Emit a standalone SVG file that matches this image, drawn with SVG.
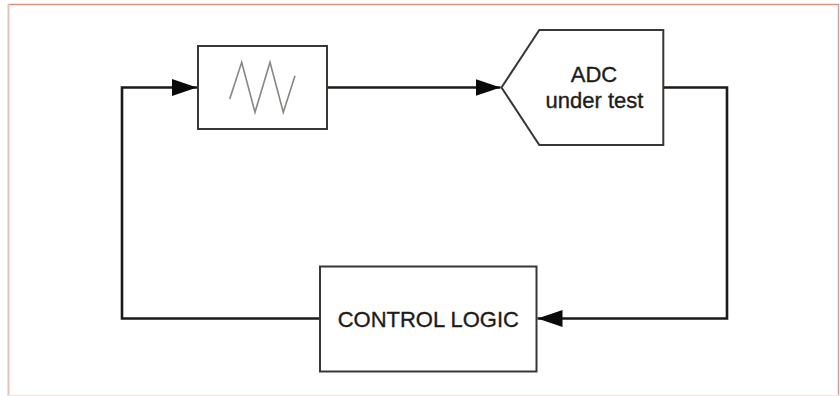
<svg xmlns="http://www.w3.org/2000/svg" width="840" height="396" viewBox="0 0 840 396">
<style>
.box{fill:#fff;stroke:#3a3632;stroke-width:2}
.wire{fill:none;stroke:#1c1a18;stroke-width:2.6;stroke-linejoin:miter}
.wave{fill:none;stroke:#8a8682;stroke-width:1.6}
.lbl{font-family:"Liberation Sans",Arial,sans-serif;font-size:22px;fill:#1e1c1a;stroke:#1e1c1a;stroke-width:0.35;text-anchor:middle}
</style>
<defs>
<marker id="arr" markerUnits="userSpaceOnUse" markerWidth="26" markerHeight="18" refX="25" refY="8.5" orient="auto" viewBox="0 0 26 18">
<polygon points="0,0 25,8.5 0,17" fill="#0a0a0a"/>
</marker>
</defs>
<rect x="0" y="0" width="840" height="396" fill="#fff"/>
<g id="frame">
<line x1="8" y1="4.5" x2="839" y2="4.5" stroke="#d9907f" stroke-width="1.5"/>
<line x1="8.5" y1="4" x2="8.5" y2="396" stroke="#e3c4bc" stroke-width="2"/>
<line x1="838.5" y1="4" x2="838.5" y2="396" stroke="#cfa39a" stroke-width="1.5"/>
<line x1="8" y1="395.5" x2="839" y2="395.5" stroke="#f0e6e4" stroke-width="1.5"/>
</g>
<g id="connectors">
<polyline class="wire" points="320,318.5 122,318.5 122,87.5 197,87.5" marker-end="url(#arr)"/>
<line class="wire" x1="327" y1="87.5" x2="500.5" y2="87.5" marker-end="url(#arr)"/>
<polyline class="wire" points="663,87.5 727,87.5 727,318.5 537.5,318.5" marker-end="url(#arr)"/>
</g>
<g id="generator">
<rect class="box" x="198" y="46" width="129" height="83"/>
<polyline class="wave" points="229.7,99 241.7,62.3 255,112.3 270,62.3 283.3,112.3 295,75.7"/>
</g>
<g id="adc">
<polygon class="box" points="539.3,30 663.3,30 663.3,145 539.3,145 501.5,87.5"/>
<text class="lbl" x="594" y="81.5">ADC</text>
<text class="lbl" x="594.5" y="108">under test</text>
</g>
<g id="control">
<rect class="box" x="320" y="266.5" width="216.5" height="105"/>
<text class="lbl" x="428.3" y="326.5">CONTROL LOGIC</text>
</g>
</svg>
